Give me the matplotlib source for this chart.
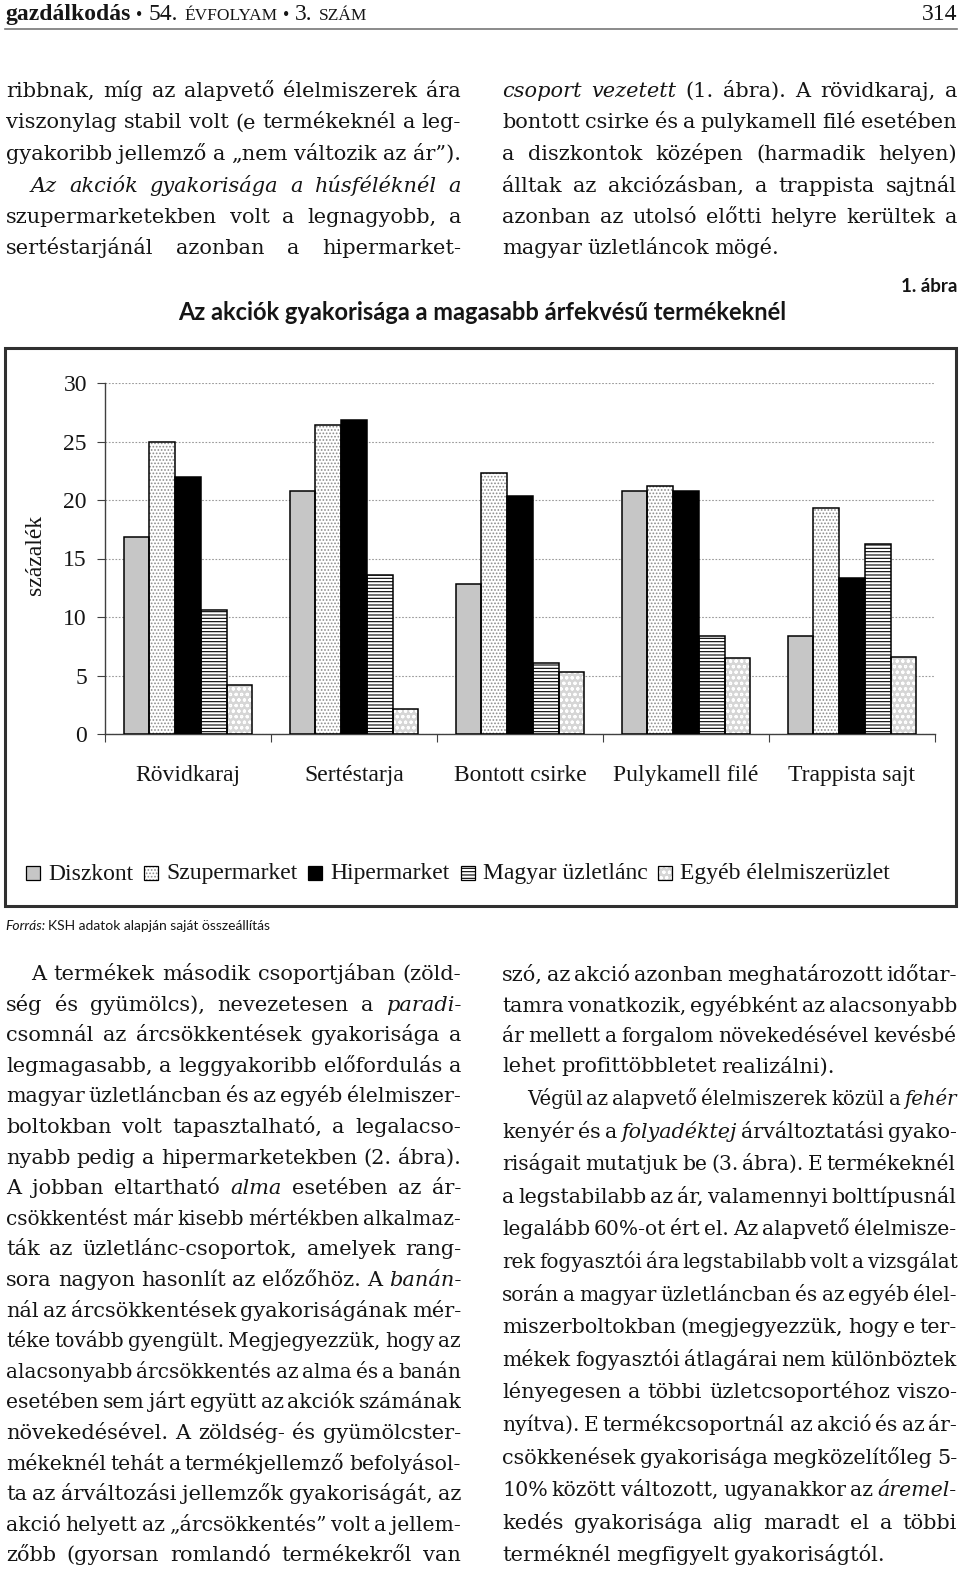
import numpy as np
import matplotlib
matplotlib.use('Agg')
import matplotlib.pyplot as plt
from matplotlib.patches import Rectangle

# chart data
categories = ['Rövidkaraj', 'Sertéstarja', 'Bontott csirke', 'Pulykamell filé', 'Trappista sajt']
series = ['Diszkont', 'Szupermarket', 'Hipermarket', 'Magyar üzletlánc', 'Egyéb élelmiszerüzlet']
diszkont = [16.8, 20.8, 12.8, 20.8, 8.4]
szupermarket = [25.0, 26.4, 22.3, 21.2, 19.3]
hipermarket = [22.0, 26.8, 20.3, 20.8, 13.3]
magyar = [10.6, 13.6, 6.1, 8.4, 16.2]
egyeb = [4.2, 2.1, 5.3, 6.5, 6.6]
yticks = [0, 5, 10, 15, 20, 25, 30]

# page text; ^ = indented line, # = not justified, <...> = italic
top_left = [
    "ribbnak, míg az alapvető élelmiszerek ára",
    "viszonylag stabil volt (e termékeknél a leg-",
    "gyakoribb jellemző a „nem változik az ár”).",
    "^<Az akciók gyakorisága a húsféléknél a",
    "szupermarketekben volt a legnagyobb, a",
    "sertéstarjánál azonban a hipermarket->",
]
top_right = [
    "<csoport vezetett> (1. ábra). A rövidkaraj, a",
    "bontott csirke és a pulykamell filé esetében",
    "a diszkontok középen (harmadik helyen)",
    "álltak az akciózásban, a trappista sajtnál",
    "azonban az utolsó előtti helyre kerültek a",
    "magyar üzletláncok mögé.#",
]
bottom_left = [
    "^A termékek második csoportjában (zöld-",
    "ség és gyümölcs), nevezetesen a <paradi-",
    "csomnál az árcsökkentések gyakorisága a",
    "legmagasabb>, a leggyakoribb előfordulás a",
    "magyar üzletláncban és az egyéb élelmiszer-",
    "boltokban volt tapasztalható, a legalacso-",
    "nyabb pedig a hipermarketekben (2. ábra).",
    "A jobban eltartható <alma> esetében az ár-",
    "csökkentést már kisebb mértékben alkalmaz-",
    "ták az üzletlánc-csoportok, amelyek rang-",
    "sora nagyon hasonlít az előzőhöz. A <banán-",
    "nál> az árcsökkentések gyakoriságának mér-",
    "téke tovább gyengült. Megjegyezzük, hogy az",
    "alacsonyabb árcsökkentés az alma és a banán",
    "esetében sem járt együtt az akciók számának",
    "növekedésével. A zöldség- és gyümölcster-",
    "mékeknél tehát a termékjellemző befolyásol-",
    "ta az árváltozási jellemzők gyakoriságát, az",
    "akció helyett az „árcsökkentés” volt a jellem-",
    "zőbb (gyorsan romlandó termékekről van",
]
bottom_right_1 = [
    "szó, az akció azonban meghatározott időtar-",
    "tamra vonatkozik, egyébként az alacsonyabb",
    "ár mellett a forgalom növekedésével kevésbé",
    "lehet profittöbbletet realizálni).#",
]
bottom_right_2 = [
    "^Végül az alapvető élelmiszerek közül a <fehér",
    "kenyér> és a <folyadéktej> árváltoztatási gyako-",
    "riságait mutatjuk be (3. ábra). E termékeknél",
    "a legstabilabb az ár, valamennyi bolttípusnál",
    "legalább 60%-ot ért el. Az alapvető élelmisze-",
    "rek fogyasztói ára legstabilabb volt a vizsgálat",
    "során a magyar üzletláncban és az egyéb élel-",
    "miszerboltokban (megjegyezzük, hogy e ter-",
    "mékek fogyasztói átlagárai nem különböztek",
    "lényegesen a többi üzletcsoportéhoz viszo-",
    "nyítva). E termékcsoportnál az akció és az ár-",
    "csökkenések gyakorisága megközelítőleg 5-",
    "10% között változott, ugyanakkor az <áremel-",
    "kedés gyakorisága alig maradt el a többi",
    "terméknél megfigyelt gyakoriságtól>.#",
]

SERIF = 'DejaVu Serif'
CHART = 'Liberation Serif'
SANS = 'Lato'
INK = '#151515'
BODY = 15.0

plt.rcParams['hatch.linewidth'] = 0.8

fig = plt.figure(figsize=(9.6, 15.69), dpi=100)
page = fig.add_axes([0, 0, 1, 1])
page.set_xlim(0, 960)
page.set_ylim(1569, 0)
page.axis('off')
r = fig.canvas.get_renderer()


def parse(line):
    indent = line.startswith('^')
    line = line.lstrip('^')
    ragged = line.endswith('#')
    line = line.rstrip('#')
    words, ital = [], False
    for raw in line.split(' '):
        w, first = '', None
        for ch in raw:
            if ch == '<':
                ital = True
                continue
            if ch == '>':
                ital = False
                continue
            if first is None:
                first = ital
            w += ch
        if w:
            words.append((w, first))
    return words, indent, ragged


def set_lines(lines, x0, x1, y0, step, size=BODY):
    for i, line in enumerate(lines):
        words, indent, ragged = parse(line)
        y = y0 + i * step
        xs = x0 + (25 if indent else 0)
        arts = [page.text(0, y, w, family=SERIF, fontsize=size, color=INK,
                          style='italic' if it else 'normal', va='baseline')
                for w, it in words]
        widths = [a.get_window_extent(r).width for a in arts]
        space = 0.318 * size * 100 / 72
        n = len(arts)
        gap = space * 0.8
        if not ragged and n > 1:
            gap = (x1 - xs - sum(widths)) / (n - 1)
            if gap < 0.6 * space:
                k = (x1 - xs - (n - 1) * 0.6 * space) / sum(widths)
                for a in arts:
                    a.set_fontsize(size * k)
                widths = [w * k for w in widths]
                gap = (x1 - xs - sum(widths)) / (n - 1)
        x = xs
        for a, w in zip(arts, widths):
            a.set_x(x)
            x += w + gap


def run(x, y, pieces, gap=5):
    # header pieces laid out one after another
    for txt, size, weight in pieces:
        t = page.text(x, y, txt, family=CHART, fontsize=size, fontweight=weight, color=INK, va='baseline')
        x += t.get_window_extent(r).width + gap


# header
run(5, 20, [('gazdálkodás', 17, 'bold'), ('•', 13, 'normal'), ('54.', 17, 'normal'),
            ('ÉVFOLYAM', 12.5, 'normal'), ('•', 13, 'normal'), ('3.', 17, 'normal'),
            ('SZÁM', 12.5, 'normal')], gap=6)
page.text(957, 20, '314', family=CHART, fontsize=17, color=INK, va='baseline', ha='right')
page.plot([5, 957], [28.5, 28.5], color='#777777', lw=1.2)

set_lines(top_left, 6, 461, 97, 31.5)
set_lines(top_right, 502, 957, 97, 31.5)
set_lines(bottom_left, 6, 461, 980, 30.6)
set_lines(bottom_right_1, 502, 957, 981, 30.5)
set_lines(bottom_right_2, 502, 957, 1105, 32.6)

# figure caption
page.text(957, 287, '1. ábra', family=SANS, fontweight='bold', fontsize=13.5, color=INK, ha='right', va='center')
page.text(482, 313, 'Az akciók gyakorisága a magasabb árfekvésű termékeknél', family=SANS,
          fontweight='bold', fontsize=17, color=INK, ha='center', va='center')
page.add_patch(Rectangle((5, 348), 951, 558, fill=False, edgecolor='#303030', lw=2.2))
t = page.text(5, 926, 'Forrás:', family=SANS, style='italic', fontsize=10, color=INK, va='center')
fx = 5 + t.get_window_extent(r).width + 3
page.text(fx, 926, 'KSH adatok alapján saját összeállítás', family=SANS, fontsize=10, color=INK, va='center')

# chart
ax = fig.add_axes([105 / 960, 1 - 734 / 1569, 830 / 960, 351 / 1569])
ax.patch.set_alpha(0)
values = [diszkont, szupermarket, hipermarket, magyar, egyeb]
faces = ['#c6c6c6', 'white', 'black', 'white', '#d6d6d6']
hatches = [None, '.....', None, '-----', 'ooo']
hcolors = [None, '#8c8c8c', None, 'black', 'white']
x = np.arange(len(categories)) + 0.5
w = 0.155
for i, vals in enumerate(values):
    xi = x + (i - 2) * w
    if hatches[i]:
        ax.bar(xi, vals, w, color=faces[i], hatch=hatches[i], edgecolor=hcolors[i], linewidth=0, zorder=2)
    ax.bar(xi, vals, w, fill=(hatches[i] is None), facecolor=faces[i], edgecolor='black', linewidth=1.1, zorder=3)

ax.set_xlim(0, 5)
ax.set_ylim(0, 30)
ax.set_yticks(yticks)
ax.set_yticklabels([str(v) for v in yticks], family=CHART, fontsize=17, color=INK)
ax.set_xticks(x)
ax.set_xticklabels(categories, family=CHART, fontsize=17, color=INK)
ax.set_xticks(np.arange(6), minor=True)
ax.tick_params(axis='x', which='major', length=0, pad=22)
ax.tick_params(axis='x', which='minor', length=6, width=0.8, direction='out', color='#404040')
ax.tick_params(axis='y', length=6, width=0.8, direction='out', color='#404040', pad=7)
ax.yaxis.grid(True, linestyle=(0, (1.5, 1.5)), color='#9a9a9a', lw=0.8, zorder=0)
ax.set_axisbelow(True)
for s in ['top', 'right']:
    ax.spines[s].set_visible(False)
for s in ['left', 'bottom']:
    ax.spines[s].set_color('#404040')
    ax.spines[s].set_linewidth(1.0)
page.text(36, 555, 'százalék', family=CHART, fontsize=17, color=INK, rotation=90, ha='center', va='center')

# legend
lx = 26
for i, name in enumerate(series):
    if hatches[i]:
        page.add_patch(Rectangle((lx, 866), 14, 14, facecolor=faces[i], hatch=hatches[i],
                                 edgecolor=hcolors[i], lw=0))
    page.add_patch(Rectangle((lx, 866), 14, 14, fill=(hatches[i] is None), facecolor=faces[i],
                             edgecolor='black', lw=0.9))
    tx = page.text(lx + 22, 874, name, family=CHART, fontsize=17, color=INK, va='center')
    lx = lx + 22 + tx.get_window_extent(r).width + 11

fig.savefig('out.png', dpi=100)
